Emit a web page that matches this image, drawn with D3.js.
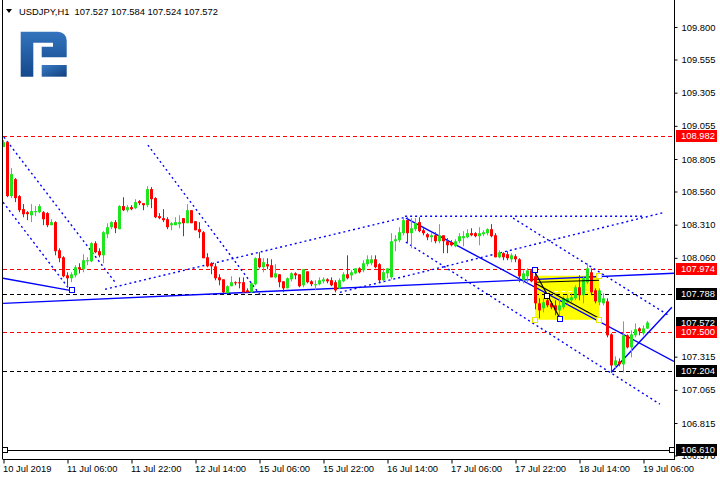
<!DOCTYPE html>
<html><head><meta charset="utf-8">
<script src="https://cdn.jsdelivr.net/npm/d3@7"></script>
<style>html,body{margin:0;padding:0;background:#fff;}svg{display:block;font-family:"Liberation Sans",Arial,sans-serif;}</style>
</head><body><svg id="c" width="720" height="480"></svg>
<script>
// ---------- data ----------
const symbol = "USDJPY,H1";
const headerValues = ["107.527", "107.584", "107.524", "107.572"];
const timeLabels = ["10 Jul 2019","11 Jul 06:00","11 Jul 22:00","12 Jul 14:00","15 Jul 06:00","15 Jul 22:00","16 Jul 14:00","17 Jul 06:00","17 Jul 22:00","18 Jul 14:00","19 Jul 06:00"];
const timeLabelBars = [0,16,32,48,64,80,96,112,128,144,160];
const priceTicks = [109.800,109.555,109.305,109.055,108.805,108.560,108.310,108.060,107.315,107.065,106.815,106.570];

const opens = [108.895,108.932,108.525,108.653,108.525,108.427,108.404,108.381,108.404,108.404,108.404,108.397,108.306,108.329,108.117,108.064,107.928,107.906,107.928,107.989,107.974,108.034,108.034,108.170,108.110,108.079,108.238,108.291,108.329,108.276,108.450,108.419,108.442,108.434,108.487,108.472,108.457,108.578,108.510,108.374,108.359,108.351,108.306,108.306,108.314,108.359,108.321,108.419,108.336,108.276,108.253,108.064,108.019,107.996,107.913,107.898,107.793,107.846,107.876,107.876,107.876,107.815,107.800,107.861,108.057,107.989,108.012,108.004,107.913,107.936,107.883,107.830,107.898,107.943,107.936,107.853,107.958,107.883,107.853,107.861,107.883,107.898,107.891,107.876,107.830,107.883,107.936,107.928,107.943,107.981,107.966,108.012,108.019,108.049,108.012,107.891,107.943,107.913,108.185,108.193,108.246,108.344,108.246,108.276,108.329,108.268,108.238,108.215,108.230,108.185,108.230,108.185,108.178,108.147,108.185,108.208,108.215,108.246,108.246,108.223,108.238,108.246,108.276,108.230,108.064,108.095,108.087,108.049,108.072,108.049,107.891,107.921,107.966,107.921,107.717,107.679,107.740,107.717,107.702,107.664,107.687,107.725,107.740,107.755,107.838,107.778,107.876,107.951,107.815,107.725,107.717,107.732,107.483,107.249,107.279,107.257,107.476,107.385,107.476,107.528,107.491,107.527];
const highs = [108.947,108.940,108.736,108.661,108.532,108.465,108.412,108.465,108.450,108.465,108.412,108.404,108.351,108.336,108.132,108.072,107.951,107.951,108.004,108.019,108.087,108.064,108.178,108.185,108.132,108.261,108.321,108.336,108.344,108.457,108.517,108.457,108.457,108.502,108.495,108.472,108.600,108.593,108.517,108.397,108.427,108.366,108.329,108.366,108.381,108.359,108.465,108.419,108.336,108.329,108.261,108.095,108.027,108.019,107.936,107.898,107.853,107.921,107.883,107.913,107.913,107.830,107.876,108.064,108.102,108.057,108.057,108.049,108.012,107.936,107.883,107.913,107.951,107.951,107.936,107.974,107.958,107.891,107.891,107.913,107.913,107.906,107.913,107.891,107.906,107.951,108.079,107.966,107.981,107.989,108.042,108.079,108.079,108.079,108.019,107.981,107.981,108.246,108.230,108.291,108.366,108.366,108.359,108.359,108.366,108.283,108.246,108.246,108.253,108.314,108.230,108.208,108.193,108.200,108.246,108.261,108.276,108.283,108.253,108.291,108.268,108.283,108.314,108.246,108.117,108.102,108.110,108.095,108.087,108.057,107.966,107.981,107.974,107.966,107.755,107.755,107.762,107.732,107.740,107.755,107.770,107.785,107.793,107.853,107.928,107.921,108.019,107.981,107.830,107.830,107.793,107.755,107.491,107.317,107.302,107.581,107.483,107.513,107.566,107.536,107.551,107.584];
const lows = [108.895,108.517,108.510,108.480,108.404,108.366,108.344,108.329,108.374,108.397,108.306,108.291,108.306,108.079,108.027,107.913,107.838,107.876,107.913,107.943,107.951,108.004,108.027,108.095,108.064,108.019,108.208,108.276,108.246,108.276,108.412,108.404,108.419,108.427,108.457,108.419,108.442,108.434,108.359,108.351,108.329,108.276,108.268,108.306,108.283,108.223,108.321,108.321,108.268,108.208,108.057,107.989,107.936,107.891,107.853,107.793,107.793,107.846,107.853,107.830,107.793,107.793,107.793,107.853,107.981,107.951,107.974,107.913,107.906,107.838,107.800,107.830,107.883,107.898,107.838,107.838,107.868,107.846,107.815,107.853,107.868,107.868,107.846,107.800,107.823,107.876,107.898,107.891,107.936,107.943,107.951,107.996,108.004,107.981,107.876,107.876,107.906,107.898,108.110,108.178,108.230,108.170,108.132,108.261,108.253,108.230,108.193,108.178,108.170,108.170,108.095,108.095,108.147,108.140,108.170,108.147,108.208,108.223,108.215,108.155,108.223,108.230,108.215,108.064,108.057,108.042,108.042,108.027,108.027,107.876,107.868,107.868,107.876,107.672,107.604,107.649,107.687,107.672,107.627,107.604,107.672,107.710,107.725,107.740,107.740,107.717,107.861,107.778,107.717,107.702,107.702,107.461,107.196,107.227,107.242,107.196,107.377,107.310,107.461,107.476,107.476,107.524];
const closes = [108.932,108.525,108.691,108.510,108.419,108.389,108.389,108.412,108.412,108.450,108.351,108.306,108.329,108.110,108.057,107.921,107.906,107.936,107.989,107.974,108.042,108.042,108.170,108.102,108.079,108.253,108.291,108.329,108.283,108.450,108.419,108.442,108.427,108.480,108.472,108.457,108.578,108.502,108.366,108.359,108.344,108.291,108.321,108.329,108.329,108.321,108.419,108.321,108.268,108.253,108.057,107.996,107.996,107.906,107.891,107.800,107.846,107.876,107.868,107.868,107.800,107.800,107.868,108.057,107.989,108.027,107.996,107.913,107.943,107.876,107.830,107.906,107.943,107.928,107.846,107.974,107.876,107.861,107.861,107.891,107.898,107.883,107.853,107.815,107.891,107.936,107.906,107.951,107.981,107.951,108.019,108.049,108.049,107.989,107.891,107.951,107.981,108.185,108.200,108.253,108.344,108.246,108.283,108.321,108.261,108.246,108.215,108.230,108.185,108.230,108.185,108.155,108.155,108.185,108.223,108.223,108.246,108.230,108.223,108.246,108.253,108.276,108.223,108.064,108.102,108.064,108.057,108.079,108.049,107.921,107.943,107.966,107.883,107.717,107.664,107.725,107.702,107.687,107.664,107.702,107.755,107.755,107.762,107.838,107.778,107.906,107.981,107.800,107.732,107.815,107.755,107.476,107.249,107.287,107.257,107.476,107.385,107.483,107.521,107.506,107.528,107.572];

const redLevels = [108.982, 107.974, 107.500];
const blackLevels = [107.788, 107.204];
const supportLevel = 106.610;
const currentPrice = 107.572;

// trend lines: [bar0, price0, bar1, price1]
const dottedLines = [
  [0.1,108.970, 27.9,107.876],
  [-0.1,108.479, 16.1,107.838],
  [36.1,108.910, 64.6,107.763],
  [25.4,107.823, 100.4,108.366],
  [100.4,108.374, 160.4,108.374],
  [84.1,107.800, 165.4,108.404],
  [127.4,108.359, 166.1,107.630],
  [100.6,108.178, 164.1,106.957]
];
const solidLines = [
  [-0.1,107.906, 16.6,107.815],
  [-0.1,107.717, 167.6,107.944],
  [100.6,108.359, 167.6,107.279],
  [151.9,107.196, 167.1,107.687]
];
const boxLines = [
  [132.9,107.951, 139.1,107.604],
  [132.9,107.868, 148.9,107.604],
  [133.4,107.876, 148.9,107.891]
];
const boxRange = [132.9,107.925, 148.9,107.593];
const boxMidLine = [134.2,107.812, 147.6,107.812];
const blueMarkers = [[17.0,107.815],[132.9,107.966],[139.1,107.596]];
const yellowMarkers = [[148.9,107.925],[132.9,107.593],[148.9,107.593]];
const blackMarkers = [[135.9,107.774],[0.4,106.610],[167.1,106.610]];

// ---------- chart ----------
const svg = d3.select("#c");
const plotL = 3, plotR = 674, plotB = 459;
const x = d3.scaleLinear().domain([0,160]).range([3.5,643.5]);
const y = d3.scaleLinear().domain([106.815,109.800]).range([423,27]);

const defs = svg.append("defs");
defs.append("clipPath").attr("id","plot").append("rect")
  .attr("x",plotL).attr("y",0).attr("width",plotR-plotL).attr("height",plotB);
const g = defs.append("linearGradient").attr("id","lg").attr("x1",0).attr("y1",0).attr("x2",0).attr("y2",1);
g.append("stop").attr("offset","0%").attr("stop-color","#3274bd");
g.append("stop").attr("offset","100%").attr("stop-color","#14488c");
const g2 = defs.append("linearGradient").attr("id","lg2").attr("x1",0).attr("y1",0).attr("x2",1).attr("y2",1);
g2.append("stop").attr("offset","0%").attr("stop-color","#3a7cc4");
g2.append("stop").attr("offset","100%").attr("stop-color","#103f80");

// logo
svg.append("path")
  .attr("d","M20.7,31.7 H58 A8.7,8.7 0 0 1 66.7,40.4 V57.3 H41.7 V46.7 H53 V42.7 H33.3 V76.7 H20.7 Z")
  .attr("fill","url(#lg)");
svg.append("path").attr("d","M41.7,65 H66.7 V76.7 H41.7 Z").attr("fill","url(#lg2)");

// header
svg.append("path").attr("d","M6,9 L12,9 L9,13 Z").attr("fill","#000");
svg.append("text").attr("x",19).attr("y",15).attr("font-size",9.4).attr("fill","#000")
  .style("white-space","pre").text(symbol + "  " + headerValues.join(" "));

const plot = svg.append("g").attr("clip-path","url(#plot)");
const lineFrom = (sel, arr) => sel.selectAll("line").data(arr).join("line")
  .attr("x1",d=>x(d[0])).attr("y1",d=>y(d[1])).attr("x2",d=>x(d[2])).attr("y2",d=>y(d[3]));

// yellow box
plot.append("rect")
  .attr("x",x(boxRange[0])).attr("y",y(boxRange[1]))
  .attr("width",x(boxRange[2])-x(boxRange[0])).attr("height",y(boxRange[3])-y(boxRange[1]))
  .attr("fill","#ffff00");
plot.append("line")
  .attr("x1",x(boxMidLine[0])).attr("x2",x(boxMidLine[2]))
  .attr("y1",Math.round(y(boxMidLine[1]))+0.5).attr("y2",Math.round(y(boxMidLine[3]))+0.5)
  .attr("stroke","#fff").attr("stroke-width",1).attr("stroke-dasharray","4,3");

// horizontal levels
const lvl = plot.append("g").attr("shape-rendering","crispEdges");
lvl.append("g").selectAll("line").data(blackLevels).join("line")
  .attr("x1",plotL).attr("x2",plotR).attr("y1",d=>Math.round(y(d))+0.5).attr("y2",d=>Math.round(y(d))+0.5)
  .attr("stroke","#000").attr("stroke-dasharray","4,3");
lvl.append("line").attr("x1",plotL).attr("x2",plotR)
  .attr("y1",Math.round(y(supportLevel))+0.5).attr("y2",Math.round(y(supportLevel))+0.5)
  .attr("stroke","#000").attr("stroke-width",1.3);
lvl.append("g").selectAll("line").data(redLevels).join("line")
  .attr("x1",plotL).attr("x2",plotR).attr("y1",d=>Math.round(y(d))+0.5).attr("y2",d=>Math.round(y(d))+0.5)
  .attr("stroke","#ff0000").attr("stroke-width",1.2).attr("stroke-dasharray","4,3");

// trend lines
lineFrom(plot.append("g"), dottedLines).attr("stroke","#0000ff").attr("stroke-width",1.4).attr("stroke-dasharray","2,3");
lineFrom(plot.append("g"), solidLines).attr("stroke","#0000ff").attr("stroke-width",1.4);

// candles
const bars = d3.range(opens.length);
const cg = plot.append("g");
bars.forEach(i => {
  const up = closes[i] >= opens[i];
  const col = up ? "#1fe51f" : "#ff0000";
  const xc = Math.floor(x(i));
  cg.append("line").attr("x1",xc+0.5).attr("x2",xc+0.5)
    .attr("y1",y(highs[i])).attr("y2",y(lows[i])).attr("stroke",col).attr("stroke-width",1);
  const top = y(Math.max(opens[i],closes[i])), bot = y(Math.min(opens[i],closes[i]));
  cg.append("rect").attr("x",xc-1).attr("width",3)
    .attr("y",top).attr("height",Math.max(1,bot-top)).attr("fill",col);
});

// box lines (black) over candles
lineFrom(plot.append("g"), boxLines).attr("stroke","#000").attr("stroke-width",1.2);

// markers
const mk = (arr, stroke) => plot.append("g").selectAll("rect").data(arr).join("rect")
  .attr("x",d=>Math.round(x(d[0]))-2.5).attr("y",d=>Math.round(y(d[1]))-2.5)
  .attr("width",5).attr("height",5).attr("fill","#fff").attr("stroke",stroke).attr("stroke-width",1);
mk(blueMarkers,"#0000ff");
mk(yellowMarkers,"#e6e600");
mk(blackMarkers,"#000");

// frame
svg.append("line").attr("x1",2.5).attr("x2",2.5).attr("y1",0).attr("y2",plotB).attr("stroke","#000");
svg.append("line").attr("x1",2.5).attr("x2",plotR).attr("y1",plotB+0.5).attr("y2",plotB+0.5).attr("stroke","#000");
svg.append("line").attr("x1",plotR+0.5).attr("x2",plotR+0.5).attr("y1",0).attr("y2",plotB+1).attr("stroke","#000");

// right axis
const ya = svg.append("g").attr("transform",`translate(${plotR+0.5},0)`)
  .call(d3.axisRight(y).tickValues(priceTicks).tickSize(3).tickPadding(4).tickFormat(d3.format(".3f")));
ya.select(".domain").remove();
ya.selectAll("text").attr("font-size",9.4).attr("font-family","Liberation Sans, Arial, sans-serif").attr("fill","#000");

// bottom axis
const xa = svg.append("g").attr("transform",`translate(0,${plotB+0.5})`)
  .call(d3.axisBottom(x).tickValues(timeLabelBars).tickSize(4).tickPadding(2).tickFormat((d,i)=>timeLabels[i]));
xa.select(".domain").remove();
xa.selectAll("text").attr("text-anchor","start").attr("dx",-1).attr("font-size",9.4)
  .attr("font-family","Liberation Sans, Arial, sans-serif").attr("fill","#000");

// price labels
const labels = svg.append("g");
const priceLabel = (p, fill) => {
  const yy = Math.round(y(p));
  labels.append("rect").attr("x",plotR+2).attr("y",yy-6).attr("width",41).attr("height",12).attr("fill",fill);
  labels.append("text").attr("x",plotR+7).attr("y",yy).attr("dy","0.35em").attr("font-size",9.4)
    .attr("fill","#fff").text(d3.format(".3f")(p));
};
priceLabel(redLevels[0],"#ff0000");
priceLabel(redLevels[1],"#ff0000");
priceLabel(blackLevels[0],"#000");
priceLabel(currentPrice,"#000");
priceLabel(redLevels[2],"#ff0000");
priceLabel(blackLevels[1],"#000");
priceLabel(supportLevel,"#000");
</script></body></html>
